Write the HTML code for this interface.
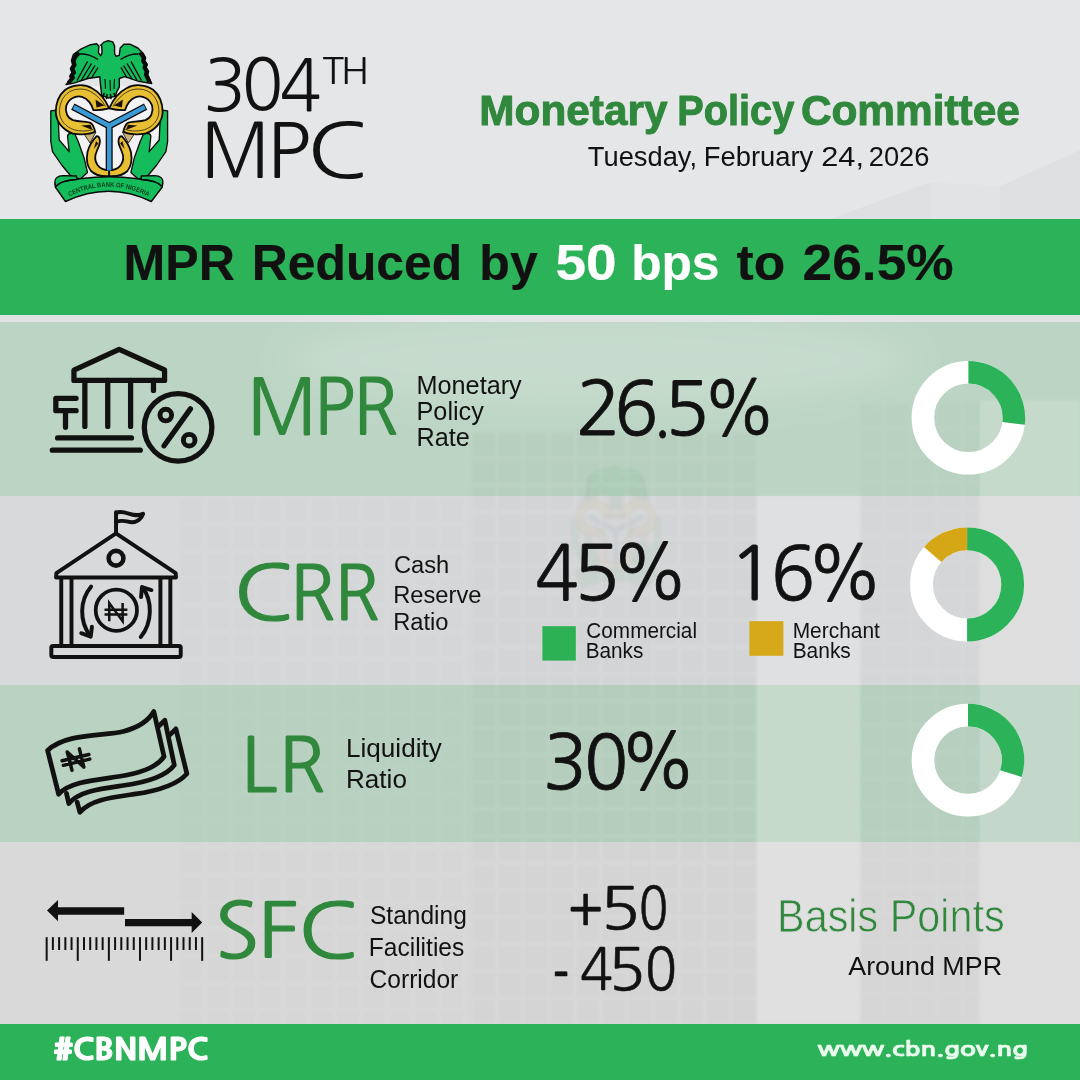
<!DOCTYPE html>
<html lang="en">
<head>
<meta charset="utf-8">
<title>304th MPC - MPR Reduced by 50 bps to 26.5%</title>
<style>
html,body{margin:0;padding:0;width:1080px;height:1080px;overflow:hidden;background:#e4e5e7;}
svg{display:block;font-family:"Liberation Sans","DejaVu Sans",sans-serif;}
</style>
</head>
<body>
<svg width="1080" height="1080" viewBox="0 0 1080 1080">
<!-- background -->
<rect x="0" y="0" width="1080" height="1080" fill="#e5e6e8"/>
<path d="M830 219 L930 182 L1000 186 L1080 150 L1080 219 Z" fill="#000" fill-opacity="0.025"/>
<path d="M930 182 L1000 186 L1000 219 L930 219 Z" fill="#fff" fill-opacity="0.12"/>
<rect x="0" y="315" width="1080" height="8" fill="#dfe3e1"/>
<!-- rows -->
<rect x="0" y="322" width="1080" height="174" fill="#bbd4c3"/>
<rect x="0" y="496" width="1080" height="189" fill="#d8d9da"/>
<rect x="0" y="685" width="1080" height="157" fill="#b9d2c1"/>
<rect x="0" y="842" width="1080" height="182" fill="#d9d9d9"/>
<!-- building overlay -->
<defs>
  <pattern id="win" x="470" y="430" width="26" height="27" patternUnits="userSpaceOnUse">
    <rect width="26" height="27" fill="#000" fill-opacity="0.025"/>
    <path d="M0 1 H26 M1 0 V27" stroke="#fff" stroke-opacity="0.09" stroke-width="1.6"/>
  </pattern>
  <pattern id="win3" x="100" y="496" width="26" height="27" patternUnits="userSpaceOnUse">
    <rect width="26" height="27" fill="#000" fill-opacity="0.01"/>
    <path d="M0 1 H26 M1 0 V27" stroke="#fff" stroke-opacity="0.05" stroke-width="1.6"/>
  </pattern>
  <pattern id="win2" x="857" y="400" width="26" height="27" patternUnits="userSpaceOnUse">
    <rect width="26" height="27" fill="#000" fill-opacity="0.015"/>
    <path d="M0 1 H26 M1 0 V27" stroke="#fff" stroke-opacity="0.08" stroke-width="1.6"/>
  </pattern>
  <filter id="blur2" x="-20%" y="-20%" width="140%" height="140%"><feGaussianBlur stdDeviation="2"/></filter>
  <linearGradient id="sky" x1="0" y1="0" x2="0" y2="1">
    <stop offset="0" stop-color="#fff" stop-opacity="0.16"/>
    <stop offset="1" stop-color="#fff" stop-opacity="0"/>
  </linearGradient>
</defs>
<filter id="soft" x="-5%" y="-5%" width="110%" height="110%"><feGaussianBlur stdDeviation="1.3"/></filter>
<filter id="blur20" x="-50%" y="-50%" width="200%" height="200%"><feGaussianBlur stdDeviation="18"/></filter>
<ellipse cx="600" cy="360" rx="320" ry="50" fill="#fff" fill-opacity="0.16" filter="url(#blur20)"/>
<g filter="url(#soft)">
<rect x="180" y="496" width="290" height="528" fill="url(#win3)"/>
<rect x="470" y="430" width="287" height="594" fill="url(#win)"/>
<rect x="757" y="496" width="103" height="528" fill="#fff" fill-opacity="0.18"/>
<rect x="860" y="400" width="120" height="624" fill="url(#win2)"/>
<rect x="980" y="400" width="100" height="624" fill="#fff" fill-opacity="0.14"/>
</g>
<use href="#logo" transform="translate(534 436) scale(0.75)" opacity="0.06" filter="url(#blur2)"/>
<!-- banner / footer -->
<rect x="0" y="219" width="1080" height="96" fill="#2cb259"/>
<rect x="0" y="1024" width="1080" height="56" fill="#2cb259"/>

<!-- legend squares -->
<rect x="542.4" y="626.2" width="33.4" height="34.4" fill="#2db155"/>
<rect x="749.4" y="621.2" width="34" height="34.6" fill="#d5a919"/>
<!-- donuts -->
<circle cx="968.40" cy="417.80" r="45.50" fill="none" stroke="#ffffff" stroke-width="22.60"/><path d="M968.40 372.30 A45.50 45.50 0 0 1 1013.56 423.35" fill="none" stroke="#2cb259" stroke-width="22.60"/><circle cx="967.10" cy="584.40" r="45.60" fill="none" stroke="#ffffff" stroke-width="22.80"/><path d="M967.10 538.80 A45.60 45.60 0 0 1 967.10 630.00" fill="none" stroke="#2cb259" stroke-width="22.80"/><path d="M932.69 554.48 A45.60 45.60 0 0 1 967.10 538.80" fill="none" stroke="#d5a717" stroke-width="22.80"/><circle cx="968.00" cy="760.10" r="45.00" fill="none" stroke="#ffffff" stroke-width="22.60"/><path d="M968.00 715.10 A45.00 45.00 0 0 1 1010.92 773.63" fill="none" stroke="#2cb259" stroke-width="22.60"/>

<!-- icons -->
<g fill="none" stroke="#111" stroke-linecap="round" stroke-linejoin="round">
  <!-- MPR bank + percent icon (zoom coords) -->
  <g transform="translate(40 335) scale(0.17593)" stroke-width="30">
    <path d="M193 258 L193 200 L450 82 L708 198 L708 258 Z"/>
    <path d="M255 258 V520 M385 258 V520 M515 258 V520 M645 258 V315"/>
    <path d="M205 360 H90 V430 H205 M145 430 V525"/>
    <path d="M100 585 H520 M70 655 H570"/>
    <circle cx="785" cy="525" r="192"/>
    <path d="M705 630 L855 420"/>
    <circle cx="715" cy="455" r="33" stroke-width="28"/>
    <circle cx="848" cy="598" r="33" stroke-width="28"/>
  </g>
  <!-- CRR bank with naira -->
  <g transform="translate(40 500) scale(0.15741)" stroke-width="25">
    <path d="M483 212 V78"/>
    <path d="M483 82 C540 55 590 120 655 88 C640 130 600 150 560 138 C530 130 510 128 483 140"/>
    <path d="M102 492 L104 465 L483 212 L862 465 L864 492 Z"/>
    <circle cx="483" cy="370" r="47" stroke-width="29"/>
    <path d="M135 500 V925 M200 500 V925 M765 500 V925 M828 500 V925"/>
    <rect x="72" y="927" width="822" height="70" rx="10"/>
    <circle cx="485" cy="700" r="131" stroke-width="24"/>
    <path d="M440 770 V655 L525 770 V655 M410 697 H555 M410 727 H555" stroke-width="16" stroke-linecap="butt" stroke-linejoin="miter"/>
    <path d="M325 550 C250 640 250 770 318 862"/>
    <path d="M262 846 L322 868 L330 805"/>
    <path d="M640 870 C715 780 715 640 652 556"/>
    <path d="M708 572 L648 553 L642 617"/>
  </g>
  <!-- LR money icon -->
  <g transform="translate(35 695) scale(0.15741)" stroke-width="30">
    <path d="M80 352 C200 240 440 262 560 232 C660 206 720 165 755 105 L820 392 C770 465 650 500 530 518 C380 540 220 552 150 630 Z"/>
    <path d="M790 195 L825 160 L885 445 C830 520 700 555 560 575 C420 595 280 610 215 690 L200 625"/>
    <path d="M860 250 L895 215 L965 500 C900 575 770 610 630 630 C490 650 350 665 285 745 L268 680"/>
    <path d="M205 362 L235 478 M282 342 L310 458 M205 362 L310 458 M172 418 L342 378 M180 447 L348 407" stroke-width="22"/>
  </g>
  <!-- SFC arrows + ruler -->
  <g transform="translate(35 890) scale(0.16667)" stroke="none" fill="#111">
    <path d="M72 123 L138 60 L138 104 L535 104 L535 148 L138 148 L138 188 Z"/>
    <path d="M1003 195 L940 132 L940 174 L540 174 L540 218 L940 218 L940 258 Z"/>
  </g>
  <g transform="translate(35 890) scale(0.16667)" stroke-width="12" stroke-linecap="butt">
    <path d="M70.0 283 V425"/><path d="M107.3 283 V360"/><path d="M144.6 283 V360"/><path d="M182.0 283 V360"/><path d="M219.3 283 V360"/><path d="M256.6 283 V425"/><path d="M293.9 283 V360"/><path d="M331.2 283 V360"/><path d="M368.6 283 V360"/><path d="M405.9 283 V360"/><path d="M443.2 283 V425"/><path d="M480.5 283 V360"/><path d="M517.8 283 V360"/><path d="M555.2 283 V360"/><path d="M592.5 283 V360"/><path d="M629.8 283 V425"/><path d="M667.1 283 V360"/><path d="M704.4 283 V360"/><path d="M741.8 283 V360"/><path d="M779.1 283 V360"/><path d="M816.4 283 V425"/><path d="M853.7 283 V360"/><path d="M891.0 283 V360"/><path d="M928.4 283 V360"/><path d="M965.7 283 V360"/><path d="M1003.0 283 V425"/>
  </g>
</g>

<!-- logo -->
<g id="logo" stroke-linejoin="round">
  <defs>
    <g id="halfL">
      <!-- hand -->
      <path d="M50.8 110.8 L57.5 110 L58.3 120.8 L59.2 140 L69.2 151.7 L67.5 136 Q68.5 133 72 133.3 L75 134.2 L78.3 141.7 L84.2 158.3 L87.5 172.5 L80 179.2 L70 175 L61.7 165 L52.5 151.7 L50.8 141.7 Z" fill="#14bc5c" stroke="#0a0a0a" stroke-width="1.3"/>
      <!-- tan triangle -->
      <path d="M84 134 L96 132 L90 143 Z" fill="#c9b27a" stroke="#0a0a0a" stroke-width="0.8"/>
      <!-- upper curl -->
      <path d="M95 131.7 C90 134.5 80 135 72.5 133.3 C63 130 56 122 55.8 112 C55.8 104 58 96 65 90 C72 84.5 84 83.5 92 88.3 C99 92 105 99 109.2 108.3 C104 109.5 98 110.5 93.3 110 C92 105 88 98.5 82 96.8 C75 95.2 68.5 99 66.2 106 C64.8 112 67.5 118 73 120.2 C80 122.2 88 121.3 91 123.2 C93 125 94.5 129 95 131.7 Z" fill="#e8be33" stroke="#0a0a0a" stroke-width="1.8"/>
      <path d="M93 129.5 C88 131.5 80 131.5 74 129.8 C66 127 60 121 59.5 112 C59.5 105 61.5 98.5 67 93.5 C73 88.5 83 87.5 90.5 91.5 C97 95 102 100.5 105.5 106.5" fill="none" stroke="#0a0a0a" stroke-width="0.7"/>
      <path d="M81 125.6 L90.5 124.8 L92.5 130 Z" fill="#1a1208"/>
      <path d="M95.5 99.5 L104.5 105.5 L96.5 107.5 Z" fill="#1a1208"/>
      <!-- lower curl -->
      <path d="M96.7 136.2 C92 141 89 146 87.5 152 C86 160 87 166 91 171 C95 175 102 176.6 109.2 176.2 L109.2 170.2 C104 170.2 100 168.5 97.5 165 C94.5 161 95 155 97 150.5 C98.5 147 100.5 143.5 99.8 139.8 C99.4 137.6 98.2 136.2 96.7 136.2 Z" fill="#e8be33" stroke="#0a0a0a" stroke-width="1.8"/>
      <path d="M96 141 L98.3 143.5 L93.8 149 Z" fill="#1a1208"/>
    </g>
  </defs>
  <path d="M58 104 Q60 88 80 86 L138 86 Q158 88 160 104 L160 150 L148 174 L70 174 L58 150 Z" fill="#f3f3f5"/>
  <use href="#halfL"/>
  <use href="#halfL" transform="translate(218.4 0) scale(-1 1)"/>
  <!-- blue Y -->
  <path d="M72.8 106.6 L109.2 125.8 L145.6 106.6 M109.2 125.8 L109.2 171" fill="none" stroke="#0a0a0a" stroke-width="7.0" stroke-linecap="butt"/>
  <path d="M73.6 107 L109.2 125.8 L144.8 107 M109.2 125.8 L109.2 170.4" fill="none" stroke="#3a9ad6" stroke-width="4.4" stroke-linecap="butt"/>
  <!-- eagle -->
  <path d="M66.0 84.5 L71.1 79.4 L69.8 76.5 L72.2 73.5 L70.4 68.5 L72.6 64.8 L71.5 60.5 L73.0 55.4 L73.9 54.0 L81.3 48.9 L90.6 44.7 L96.6 43.8 L98.9 46.1 L98.4 52.6 L100.7 55.8 L102.1 52.6 L101.7 46.1 L100.7 45.2 L103.5 42.4 L108.1 40.7 L112.8 41.9 L114.6 46.1 L114.6 53.5 L116.0 56.3 L119.3 55.4 L120.2 48.0 L123.9 44.3 L130.4 44.3 L137.8 48.0 L143.3 53.5 L145.6 58.0 L144.6 61.0 L147.2 64.5 L146.0 67.5 L148.6 71.5 L147.6 74.5 L151.7 83.6 L138.7 81.3 L124.8 76.7 L119.3 78.5 L119.3 86.9 L116.5 92.4 L115.6 96.1 L108.1 98.0 L101.7 95.2 L100.7 86.9 L99.8 76.7 L87.8 78.5 L73.9 83.1 Z" fill="#14bc5c" stroke="#0a0a0a" stroke-width="1.4"/>
  <path d="M68.5 83 L73 77.5 L71.5 75.5 L74 72.5 L72.3 68.5 L74.5 65 L73.5 61 L75.5 56.5 L79 52.5 M149.5 82.5 L146 74.5 L146.8 71.5 L144.6 67.5 L145.6 64.5 L143.2 61 L143.8 57.5 L140 52.5" fill="none" stroke="#0a0a0a" stroke-width="4.2" stroke-linejoin="round"/>
  <path d="M77 80.5 L87.5 61.5 M81.5 80 L91.5 63.5 M86.5 79 L95 65.5 M91.5 78 L98 67.5 M80 54 Q89 53.5 98 59.5 M141.5 80.5 L131 61.5 M137 80 L127 63.5 M132 79 L123.5 65.5 M127 78 L121 67.5 M138.5 54 Q129.5 53.5 120.5 59.5" fill="none" stroke="#0a0a0a" stroke-width="1.4"/>
  <path d="M104 93.5 L103 97.5 M107 94.5 L106.5 98.5 M110.5 94.5 L111 98.5 M114 93.5 L115.5 97" fill="none" stroke="#0a0a0a" stroke-width="1.6" stroke-linecap="round"/>
  <path d="M105 79 L105.5 89 M110 80 L110.5 91 M114.5 79 L114 89" fill="none" stroke="#0a0a0a" stroke-width="1.1"/>
  <!-- ribbon -->
  <path d="M55 183.5 Q108.9 170 162.6 183.5 L162.3 187 L151.3 201.5 Q108.9 181 65.5 201.5 L55.3 187 Z" fill="#14bc5c" stroke="#0a0a0a" stroke-width="1.4"/>
  <path d="M55.4 185 C53.5 178.5 57.5 175.6 63.5 175.6 L76.5 176 L76.5 179.5 Q63 179.5 56.5 186 Z" fill="#14bc5c" stroke="#0a0a0a" stroke-width="1.3"/>
  <path d="M162.4 185 C164.3 178.5 160.3 175.6 154.3 175.6 L141.3 176 L141.3 179.5 Q154.8 179.5 161.3 186 Z" fill="#14bc5c" stroke="#0a0a0a" stroke-width="1.3"/>
</g>
<g id="logotext">
  <path id="ribpath" d="M69.5 196.5 Q108.9 176.4 150.5 197.5" fill="none"/>
  <text font-size="6.6" font-weight="700" fill="#0c3d1a"><textPath href="#ribpath" textLength="82" lengthAdjust="spacingAndGlyphs">CENTRAL BANK OF NIGERIA</textPath></text>
</g>


<!-- texts -->
<text y="110.60" font-size="71.31" font-weight="400" fill="#121212" font-family='"NanumGothic", "Liberation Sans", sans-serif'><tspan x="203.25" textLength="43.29" lengthAdjust="spacingAndGlyphs">3</tspan><tspan x="241.68" textLength="41.60" lengthAdjust="spacingAndGlyphs">0</tspan><tspan x="279.75" textLength="41.78" lengthAdjust="spacingAndGlyphs">4</tspan></text>
<text y="83.80" font-size="36.27" font-weight="400" fill="#121212" font-family='"NanumGothic", "Liberation Sans", sans-serif'><tspan x="322.18" textLength="21.75" lengthAdjust="spacingAndGlyphs">T</tspan><tspan x="340.81" textLength="28.58" lengthAdjust="spacingAndGlyphs">H</tspan></text>
<text y="178.00" font-size="76.00" font-weight="400" fill="#121212" font-family='"NanumGothic", "Liberation Sans", sans-serif'><tspan x="200.87" textLength="69.58" lengthAdjust="spacingAndGlyphs">M</tspan><tspan x="266.84" textLength="44.06" lengthAdjust="spacingAndGlyphs">P</tspan><tspan x="306.81" textLength="61.17" lengthAdjust="spacingAndGlyphs">C</tspan></text>
<text y="125.30" font-size="43.24" font-weight="700" fill="#30883d" stroke="#30883d" stroke-width="1.00" stroke-linejoin="round"><tspan x="479.36" textLength="188.08" lengthAdjust="spacingAndGlyphs">Monetary</tspan> <tspan x="677.32" textLength="116.93" lengthAdjust="spacingAndGlyphs">Policy</tspan> <tspan x="800.88" textLength="218.98" lengthAdjust="spacingAndGlyphs">Committee</tspan></text>
<text y="166.30" font-size="26.74" font-weight="400" fill="#121212"><tspan x="587.87" textLength="109.16" lengthAdjust="spacingAndGlyphs">Tuesday,</tspan> <tspan x="703.86" textLength="109.44" lengthAdjust="spacingAndGlyphs">February</tspan> <tspan x="821.26" textLength="42.74" lengthAdjust="spacingAndGlyphs">24,</tspan> <tspan x="868.72" textLength="60.68" lengthAdjust="spacingAndGlyphs">2026</tspan></text>
<text y="280.30" font-size="49.49" font-weight="700" fill="#111" stroke="#111" stroke-width="0.20" stroke-linejoin="round"><tspan x="123.46" textLength="111.49" lengthAdjust="spacingAndGlyphs">MPR</tspan> <tspan x="251.79" textLength="210.40" lengthAdjust="spacingAndGlyphs">Reduced</tspan> <tspan x="479.37" textLength="58.41" lengthAdjust="spacingAndGlyphs">by</tspan> <tspan x="555.54" textLength="61.19" lengthAdjust="spacingAndGlyphs" fill="#ffffff" stroke="#ffffff">50</tspan> <tspan x="631.20" textLength="88.32" lengthAdjust="spacingAndGlyphs" fill="#ffffff" stroke="#ffffff">bps</tspan> <tspan x="736.60" textLength="48.69" lengthAdjust="spacingAndGlyphs">to</tspan> <tspan x="802.64" textLength="151.02" lengthAdjust="spacingAndGlyphs">26.5%</tspan></text>
<text y="435.20" font-size="77.20" font-weight="400" fill="#30883d" stroke="#30883d" stroke-width="1.20" stroke-linejoin="round" font-family='"NanumGothic", "Liberation Sans", sans-serif'><tspan x="247.14" textLength="69.83" lengthAdjust="spacingAndGlyphs">M</tspan><tspan x="313.96" textLength="40.88" lengthAdjust="spacingAndGlyphs">P</tspan><tspan x="352.99" textLength="45.16" lengthAdjust="spacingAndGlyphs">R</tspan></text>
<text transform="translate(416.53 393.90) scale(0.9865 1)" font-size="25.60" font-weight="400" fill="#121212"><tspan fill="#121212">Monetary</tspan></text>
<text transform="translate(416.53 419.80) scale(0.9865 1)" font-size="25.60" font-weight="400" fill="#121212">Policy</text>
<text transform="translate(416.53 445.60) scale(0.9865 1)" font-size="25.60" font-weight="400" fill="#121212">Rate</text>
<text y="434.90" font-size="74.32" font-weight="400" fill="#121212" stroke="#121212" stroke-width="0.80" stroke-linejoin="round" font-family='"NanumGothic", "Liberation Sans", sans-serif'><tspan x="575.78" textLength="45.51" lengthAdjust="spacingAndGlyphs">2</tspan><tspan x="614.25" textLength="44.12" lengthAdjust="spacingAndGlyphs">6</tspan><tspan x="652.85" textLength="18.91" lengthAdjust="spacingAndGlyphs">.</tspan><tspan x="664.29" textLength="45.34" lengthAdjust="spacingAndGlyphs">5</tspan><tspan x="702.51" textLength="74.02" lengthAdjust="spacingAndGlyphs">%</tspan></text>
<text y="619.80" font-size="75.47" font-weight="400" fill="#30883d" stroke="#30883d" stroke-width="1.20" stroke-linejoin="round" font-family='"NanumGothic", "Liberation Sans", sans-serif'><tspan x="233.62" textLength="59.97" lengthAdjust="spacingAndGlyphs">C</tspan><tspan x="289.64" textLength="45.53" lengthAdjust="spacingAndGlyphs">R</tspan><tspan x="334.16" textLength="45.41" lengthAdjust="spacingAndGlyphs">R</tspan></text>
<text transform="translate(393.15 602.50) scale(0.9695 1)" font-size="24.46" font-weight="400" fill="#121212"><tspan fill="#121212">Reserve</tspan></text>
<text transform="translate(393.89 573.00) scale(0.9695 1)" font-size="24.46" font-weight="400" fill="#121212">Cash</text>
<text transform="translate(393.15 630.00) scale(0.9695 1)" font-size="24.46" font-weight="400" fill="#121212">Ratio</text>
<text y="599.60" font-size="75.60" font-weight="400" fill="#121212" stroke="#121212" stroke-width="0.80" stroke-linejoin="round" font-family='"NanumGothic", "Liberation Sans", sans-serif'><tspan x="535.16" textLength="43.44" lengthAdjust="spacingAndGlyphs">4</tspan><tspan x="573.16" textLength="46.81" lengthAdjust="spacingAndGlyphs">5</tspan><tspan x="611.51" textLength="77.51" lengthAdjust="spacingAndGlyphs">%</tspan></text>
<text y="599.60" font-size="74.06" font-weight="400" fill="#121212" stroke="#121212" stroke-width="0.80" stroke-linejoin="round" font-family='"NanumGothic", "Liberation Sans", sans-serif'><tspan x="728.62" textLength="47.32" lengthAdjust="spacingAndGlyphs">1</tspan><tspan x="770.81" textLength="44.48" lengthAdjust="spacingAndGlyphs">6</tspan><tspan x="806.63" textLength="76.48" lengthAdjust="spacingAndGlyphs">%</tspan></text>
<text transform="translate(586.33 638.30) scale(0.9358 1)" font-size="22.19" font-weight="400" fill="#121212"><tspan fill="#121212">Commercial</tspan></text>
<text transform="translate(585.68 658.30) scale(0.9358 1)" font-size="22.19" font-weight="400" fill="#121212">Banks</text>
<text transform="translate(792.66 638.30) scale(0.9496 1)" font-size="22.04" font-weight="400" fill="#121212"><tspan fill="#121212">Merchant</tspan></text>
<text transform="translate(792.66 658.30) scale(0.9496 1)" font-size="22.04" font-weight="400" fill="#121212">Banks</text>
<text y="792.10" font-size="75.73" font-weight="400" fill="#30883d" stroke="#30883d" stroke-width="1.20" stroke-linejoin="round" font-family='"NanumGothic", "Liberation Sans", sans-serif'><tspan x="241.24" textLength="35.93" lengthAdjust="spacingAndGlyphs">L</tspan><tspan x="278.47" textLength="46.65" lengthAdjust="spacingAndGlyphs">R</tspan></text>
<text transform="translate(345.96 757.00) scale(1.0037 1)" font-size="26.03" font-weight="400" fill="#121212"><tspan fill="#121212">Liquidity</tspan></text>
<text transform="translate(345.96 788.20) scale(1.0037 1)" font-size="26.03" font-weight="400" fill="#121212">Ratio</text>
<text y="789.20" font-size="75.49" font-weight="400" fill="#121212" stroke="#121212" stroke-width="0.80" stroke-linejoin="round" font-family='"NanumGothic", "Liberation Sans", sans-serif'><tspan x="542.97" textLength="44.29" lengthAdjust="spacingAndGlyphs">3</tspan><tspan x="583.97" textLength="44.31" lengthAdjust="spacingAndGlyphs">0</tspan><tspan x="619.44" textLength="77.25" lengthAdjust="spacingAndGlyphs">%</tspan></text>
<text y="958.15" font-size="76.07" font-weight="400" fill="#30883d" stroke="#30883d" stroke-width="1.20" stroke-linejoin="round" font-family='"NanumGothic", "Liberation Sans", sans-serif'><tspan x="215.02" textLength="44.29" lengthAdjust="spacingAndGlyphs">S</tspan><tspan x="258.09" textLength="40.30" lengthAdjust="spacingAndGlyphs">F</tspan><tspan x="298.01" textLength="60.09" lengthAdjust="spacingAndGlyphs">C</tspan></text>
<text transform="translate(369.98 923.75) scale(0.9862 1)" font-size="24.89" font-weight="400" fill="#121212"><tspan fill="#121212">Standing</tspan></text>
<text transform="translate(368.83 955.50) scale(0.9862 1)" font-size="24.89" font-weight="400" fill="#121212">Facilities</text>
<text transform="translate(369.60 987.50) scale(0.9862 1)" font-size="24.89" font-weight="400" fill="#121212">Corridor</text>
<text y="928.90" font-size="57.60" font-weight="400" fill="#121212" stroke="#121212" stroke-width="0.60" stroke-linejoin="round" font-family='"NanumGothic", "Liberation Sans", sans-serif'><tspan x="567.75" textLength="35.64" lengthAdjust="spacingAndGlyphs" dy="2.00">+</tspan><tspan x="600.19" textLength="40.12" lengthAdjust="spacingAndGlyphs" dy="-2.00">5</tspan><tspan x="638.82" textLength="29.50" lengthAdjust="spacingAndGlyphs">0</tspan></text>
<text y="989.70" font-size="58.13" font-weight="400" fill="#121212" stroke="#121212" stroke-width="0.60" stroke-linejoin="round" font-family='"NanumGothic", "Liberation Sans", sans-serif'><tspan x="552.55" textLength="16.65" lengthAdjust="spacingAndGlyphs" dy="6.50">-</tspan> <tspan x="580.00" textLength="32.91" lengthAdjust="spacingAndGlyphs" dy="-6.50">4</tspan><tspan x="608.29" textLength="37.25" lengthAdjust="spacingAndGlyphs">5</tspan><tspan x="644.93" textLength="31.97" lengthAdjust="spacingAndGlyphs">0</tspan></text>
<text transform="translate(777.12 932.00) scale(0.8780 1)" font-size="47.08" font-weight="400" fill="#30883d" stroke="#d9d9d9" stroke-width="0.80" stroke-linejoin="round"><tspan fill="#30883d">Basis Points</tspan></text>
<text transform="translate(848.20 974.90) scale(1.0615 1)" font-size="25.32" font-weight="400" fill="#121212"><tspan fill="#121212">Around MPR</tspan></text>
<text transform="translate(53.46 1060.20) scale(1.1274 1)" font-size="28.49" font-weight="800" fill="#ffffff" stroke="#ffffff" stroke-width="1.00" stroke-linejoin="round" font-family='"NanumGothic", "Liberation Sans", sans-serif'><tspan fill="#ffffff">#CBNMPC</tspan></text>
<text transform="translate(817.77 1055.75) scale(1.3516 1)" font-size="19.32" font-weight="700" fill="#eafbee" stroke="#eafbee" stroke-width="0.70" stroke-linejoin="round" font-family='"NanumGothic", "Liberation Sans", sans-serif'><tspan fill="#eafbee">www.cbn.gov.ng</tspan></text>
</svg>
</body>
</html>
